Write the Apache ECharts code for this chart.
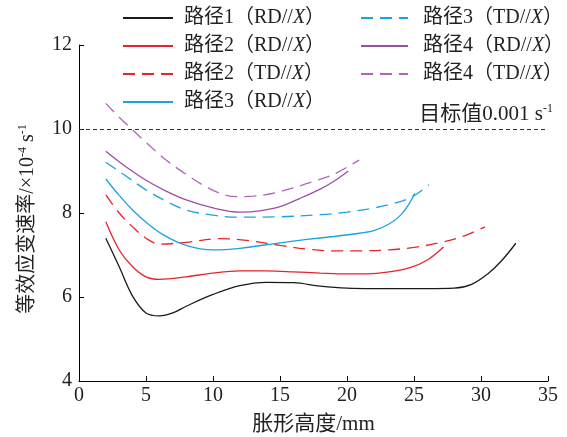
<!DOCTYPE html>
<html>
<head>
<meta charset="utf-8">
<script src="https://cdn.jsdelivr.net/npm/echarts@6/dist/echarts.min.js"></script>
<style>
html,body{margin:0;padding:0;background:#fff;}
#chart{width:567px;height:437px;}
</style>
</head>
<body>
<div id="chart"></div>
<script>
// ---- data (x: 胀形高度/mm, y: 等效应变速率 ×10^-4 s^-1) ----
const seriesNames = ['路径1（RD//X）','路径2（RD//X）','路径2（TD//X）','路径3（RD//X）','路径3（TD//X）','路径4（RD//X）','路径4（TD//X）'];
const path1RD = [[2,7.40],[3,6.72],[4,6.02],[5,5.62],[6,5.55],[7,5.62],[8,5.78],[10,6.06],[12,6.27],[14,6.35],[16,6.34],[18,6.26],[20,6.21],[22,6.20],[24,6.20],[26,6.20],[28,6.21],[29.3,6.30],[30.5,6.55],[31.5,6.85],[32.6,7.28]];
const path2RD = [[2,7.79],[3,7.12],[4,6.72],[5,6.48],[6,6.42],[8,6.48],[10,6.57],[12,6.62],[14,6.62],[16,6.60],[18,6.57],[20,6.55],[21.5,6.55],[23,6.59],[24.7,6.70],[26,6.88],[27.2,7.19]];
const path2TD = [[2,8.43],[3,8.00],[4,7.67],[5,7.40],[6,7.26],[8,7.30],[10.5,7.39],[12.5,7.35],[15,7.23],[17,7.14],[19,7.10],[21,7.10],[23,7.12],[25,7.18],[27,7.30],[28.7,7.45],[30.3,7.67]];
const path3RD = [[2,8.81],[3,8.42],[4,8.07],[5,7.78],[6.3,7.48],[8,7.23],[10,7.12],[12,7.16],[15,7.29],[17,7.37],[19,7.44],[20.5,7.50],[22,7.58],[23.2,7.75],[24,7.95],[24.6,8.20],[25.05,8.47]];
const path3TD = [[2,9.21],[3.5,8.88],[5,8.55],[6.5,8.28],[8,8.07],[10,7.95],[11.7,7.90],[15,7.91],[18,7.96],[20,8.02],[22,8.12],[23.5,8.23],[24.7,8.36],[25.5,8.52],[26.1,8.67]];
const path4RD = [[2,9.47],[3.5,9.10],[5,8.78],[6.5,8.52],[8,8.31],[10,8.12],[12,8.02],[13.5,8.05],[15,8.15],[16.5,8.35],[18,8.57],[19,8.75],[20.1,9.00]];
const path4TD = [[2,10.61],[3,10.28],[4,9.98],[5,9.68],[6.5,9.26],[8,8.92],[9.5,8.62],[11,8.42],[12,8.39],[13,8.40],[14.5,8.47],[16,8.60],[17.5,8.75],[19,8.92],[20.9,9.26]];
const targetValue = 10;
const xTicks = {min:0, max:35, interval:5};
const yTicks = {min:4, max:12, interval:2};

const seriesData = [path1RD, path2RD, path2TD, path3RD, path3TD, path4RD, path4TD];
const colors = ['#1a1a1a','#e8232b','#e8232b','#1aa3e0','#1aa3e0','#9d4ea8','#b066b8'];
const dashed = [false,false,true,false,true,false,true];

const serif = '"Liberation Serif","Times New Roman","Noto Sans CJK SC",serif';
const chart = echarts.init(document.getElementById('chart'), null, {renderer:'canvas'});

const series = seriesNames.map((n,i)=>({
  name:n, type:'line', data:seriesData[i], smooth:0.35, symbol:'none',
  lineStyle:{color:colors[i], width:1.3, type: dashed[i] ? [12,7] : 'solid'},
  itemStyle:{color:colors[i]},
  z:3
}));
series[0].markLine = {
  silent:true, symbol:['none','none'],
  lineStyle:{color:'#333', width:1, type:[4,3]},
  label:{
    position:'insideEndTop', distance:[-5,4],
    formatter:'目标值0.001 s{sup|-1}',
    fontFamily:serif, fontSize:21, color:'#222',
    rich:{sup:{fontSize:12, fontFamily:serif, color:'#222', verticalAlign:'bottom', padding:[0,0,10,0]}}
  },
  data:[{yAxis:targetValue}]
};

const mkLegendText = pad => ({
  fontFamily:serif, fontSize:20, color:'#222', padding:[0,0,0,pad],
  rich:{i:{fontStyle:'italic', fontFamily:serif, fontSize:20, color:'#222'}}
});
const fmt = name => name.replace('X）','{i|X}）');

chart.setOption({
  animation:false,
  backgroundColor:'#fff',
  grid:{left:79, right:19, top:45, bottom:56, outerBoundsMode:'none', containLabel:false},
  legend:[
    {left:122, top:8, padding:0, orient:'vertical', itemWidth:50, itemHeight:14, itemGap:8,
     data:seriesNames.slice(0,4), textStyle:mkLegendText(6), formatter:fmt, itemStyle:{opacity:0}},
    {left:360, top:8, padding:0, orient:'vertical', itemWidth:47, itemHeight:14, itemGap:8,
     data:seriesNames.slice(4), textStyle:mkLegendText(10), formatter:fmt, itemStyle:{opacity:0}}
  ],
  xAxis:{
    type:'value', min:xTicks.min, max:xTicks.max, interval:xTicks.interval,
    name:'胀形高度/mm', nameLocation:'middle', nameGap:33,
    nameTextStyle:{fontFamily:serif, fontSize:21, color:'#222'},
    axisLine:{lineStyle:{color:'#000', width:1}},
    axisTick:{inside:true, length:5, lineStyle:{color:'#000'}},
    axisLabel:{fontFamily:serif, fontSize:20, color:'#222', margin:5},
    splitLine:{show:false}
  },
  yAxis:{
    type:'value', min:yTicks.min, max:yTicks.max, interval:yTicks.interval,
    name:'等效应变速率/×10{sup|-4} s{sup|-1}', nameLocation:'middle', nameGap:40, nameRotate:90,
    nameTextStyle:{fontFamily:serif, fontSize:20, color:'#222', padding:[0,12,0,0],
      rich:{sup:{fontSize:12, fontFamily:serif, color:'#222', verticalAlign:'bottom', padding:[0,0,10,0]}}},
    axisLine:{show:true, lineStyle:{color:'#000', width:1}},
    axisTick:{show:true, inside:true, length:5, lineStyle:{color:'#000'}},
    axisLabel:{fontFamily:serif, fontSize:20, color:'#222', margin:7},
    splitLine:{show:false}
  },
  series:series
});
</script>
</body>
</html>
